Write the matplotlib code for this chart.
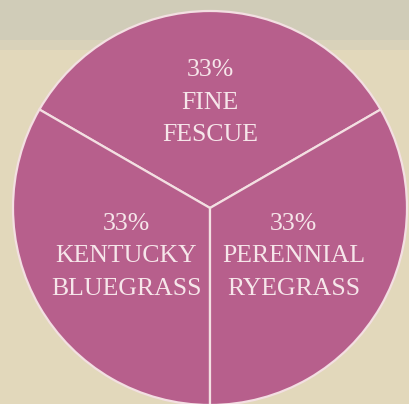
import matplotlib
matplotlib.use("Agg")
import matplotlib.pyplot as plt
import numpy as np

categories = ["FINE\nFESCUE", "KENTUCKY\nBLUEGRASS", "PERENNIAL\nRYEGRASS"]
shares = [33, 33, 33]
pct_labels = ["33%", "33%", "33%"]

W, H = 409, 404
fig = plt.figure(figsize=(W / 100, H / 100), dpi=100)
fig.patch.set_facecolor("#e2d8bb")
ax = fig.add_axes([0, 0, 1, 1])
ax.set_xlim(0, W)
ax.set_ylim(0, H)
ax.set_aspect("equal")
ax.axis("off")
ax.axhspan(H - 40, H, color="#d0ccb8", zorder=0, lw=0)
ax.axhspan(H - 50, H - 40, color="#d9d2ba", zorder=0, lw=0)

cx, cy, R = 210, 196, 197
wedges, _ = ax.pie(shares, startangle=30, counterclock=True, center=(cx, cy), radius=R,
                   colors=["#b75f8c"] * 3,
                   wedgeprops=dict(edgecolor="#f3dfe2", linewidth=1.6), frame=True)
ax.set_xlim(0, W)
ax.set_ylim(0, H)
ax.axis("off")

dists = [0.535, 0.49, 0.49]
for w, cat, pct, d in zip(wedges, categories, pct_labels, dists):
    th = np.deg2rad((w.theta1 + w.theta2) / 2)
    x = cx + d * R * np.cos(th)
    y = cy + d * R * np.sin(th)
    ax.text(x, y, f"{pct}\n{cat}", ha="center", va="center", color="#f6e6ea",
            fontsize=18.5, family="Liberation Serif",
            linespacing=1.62, multialignment="center")

fig.savefig("out.png", dpi=100, facecolor=fig.get_facecolor())
